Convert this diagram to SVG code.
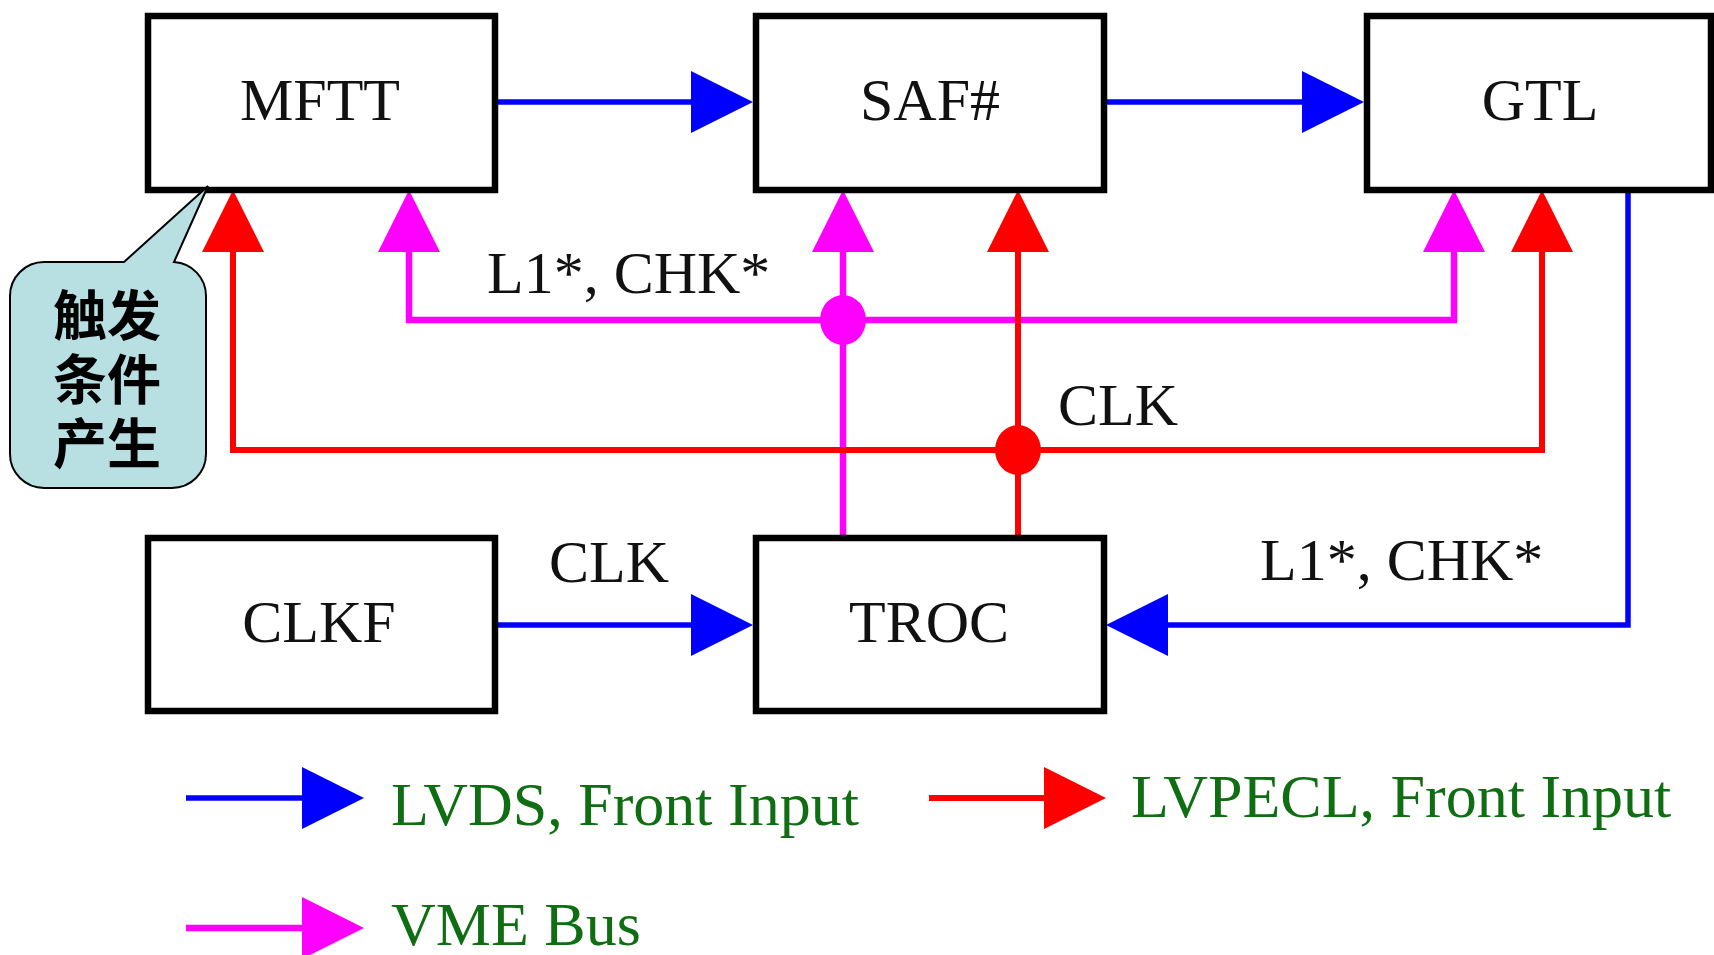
<svg xmlns="http://www.w3.org/2000/svg" width="1714" height="955" viewBox="0 0 1714 955">
  <defs>
    <style>
      .box { fill: #ffffff; stroke: #000000; stroke-width: 6.5; }
      .lbl { font-family: "Liberation Serif", "Times New Roman", serif; font-size: 60px; fill: #111111; }
      .legend { font-family: "Liberation Serif", "Times New Roman", serif; font-size: 62px; fill: #0f6e12; }
      .cjk { font-family: "Liberation Sans", "Noto Sans CJK SC", sans-serif; font-size: 54px; font-weight: bold; fill: #000000; text-anchor: middle; }
      .blue { fill: none; stroke: #0000ff; stroke-width: 5.5; }
      .red { fill: none; stroke: #ff0000; stroke-width: 6; }
      .mag { fill: none; stroke: #ff00ff; stroke-width: 6.5; }
    </style>
    <marker id="ahBlue" markerUnits="userSpaceOnUse" viewBox="0 0 62 62" markerWidth="62" markerHeight="62" refX="0" refY="31" orient="auto">
      <path d="M0,0 L62,31 L0,62 Z" fill="#0000ff"/>
    </marker>
    <marker id="ahRed" markerUnits="userSpaceOnUse" viewBox="0 0 62 62" markerWidth="62" markerHeight="62" refX="0" refY="31" orient="auto">
      <path d="M0,0 L62,31 L0,62 Z" fill="#ff0000"/>
    </marker>
    <marker id="ahMag" markerUnits="userSpaceOnUse" viewBox="0 0 62 62" markerWidth="62" markerHeight="62" refX="0" refY="31" orient="auto">
      <path d="M0,0 L62,31 L0,62 Z" fill="#ff00ff"/>
    </marker>
  </defs>

  <rect x="0" y="0" width="1714" height="955" fill="#ffffff"/>

  <!-- connectors -->
  <g id="connectors">
    <!-- VME bus (magenta) -->
    <path class="mag" d="M843,538 V252" marker-end="url(#ahMag)"/>
    <path class="mag" d="M843,320 H409 V252" marker-end="url(#ahMag)"/>
    <path class="mag" d="M843,320 H1454 V252" marker-end="url(#ahMag)"/>
    <ellipse cx="843" cy="320" rx="23" ry="25" fill="#ff00ff"/>

    <!-- LVPECL clock distribution (red) -->
    <path class="red" d="M1018,538 V252" marker-end="url(#ahRed)"/>
    <path class="red" d="M1018,450 H233 V252" marker-end="url(#ahRed)"/>
    <path class="red" d="M1018,450 H1542 V252" marker-end="url(#ahRed)"/>
    <ellipse cx="1018" cy="450" rx="23" ry="25" fill="#ff0000"/>

    <!-- LVDS links (blue) -->
    <path class="blue" d="M495,102 H691" marker-end="url(#ahBlue)"/>
    <path class="blue" d="M1104,102 H1302" marker-end="url(#ahBlue)"/>
    <path class="blue" d="M495,625 H691" marker-end="url(#ahBlue)"/>
    <path class="blue" d="M1628,190 V625 H1168" marker-end="url(#ahBlue)"/>

    <!-- connector labels -->
    <text class="lbl" x="487" y="293">L1*, CHK*</text>
    <text class="lbl" x="1058" y="425">CLK</text>
    <text class="lbl" x="549" y="582">CLK</text>
    <text class="lbl" x="1260" y="580">L1*, CHK*</text>
  </g>

  <!-- nodes -->
  <g id="mftt">
    <rect class="box" x="148" y="16" width="347" height="174"/>
    <text class="lbl" x="320" y="120" text-anchor="middle">MFTT</text>
  </g>
  <g id="saf">
    <rect class="box" x="756" y="16" width="348" height="174"/>
    <text class="lbl" x="930" y="120" text-anchor="middle">SAF#</text>
  </g>
  <g id="gtl">
    <rect class="box" x="1367" y="16" width="344" height="174"/>
    <text class="lbl" x="1540" y="120" text-anchor="middle">GTL</text>
  </g>
  <g id="clkf">
    <rect class="box" x="148" y="538" width="347" height="173"/>
    <text class="lbl" x="319" y="642" text-anchor="middle">CLKF</text>
  </g>
  <g id="troc">
    <rect class="box" x="756" y="538" width="348" height="173"/>
    <text class="lbl" x="929" y="642" text-anchor="middle">TROC</text>
  </g>

  <!-- callout -->
  <g id="callout">
    <path d="M44,262 H124 L208,186 L174,262 A34,34 0 0 1 206,296 V454 A34,34 0 0 1 172,488 H44 A34,34 0 0 1 10,454 V296 A34,34 0 0 1 44,262 Z"
          fill="#b8dfe2" stroke="#000000" stroke-width="2"/>
    <text class="cjk" x="107" y="336">触发</text>
    <text class="cjk" x="107" y="400">条件</text>
    <text class="cjk" x="107" y="464">产生</text>
  </g>

  <!-- legend -->
  <g id="legend">
    <path class="blue" d="M186,798 H302" marker-end="url(#ahBlue)"/>
    <text class="legend" x="391" y="825">LVDS, Front Input</text>
    <path class="red" d="M929,798 H1044" marker-end="url(#ahRed)"/>
    <text class="legend" x="1131" y="817">LVPECL, Front Input</text>
    <path class="mag" d="M186,928 H302" marker-end="url(#ahMag)"/>
    <text class="legend" x="391" y="945">VME Bus</text>
  </g>
</svg>
